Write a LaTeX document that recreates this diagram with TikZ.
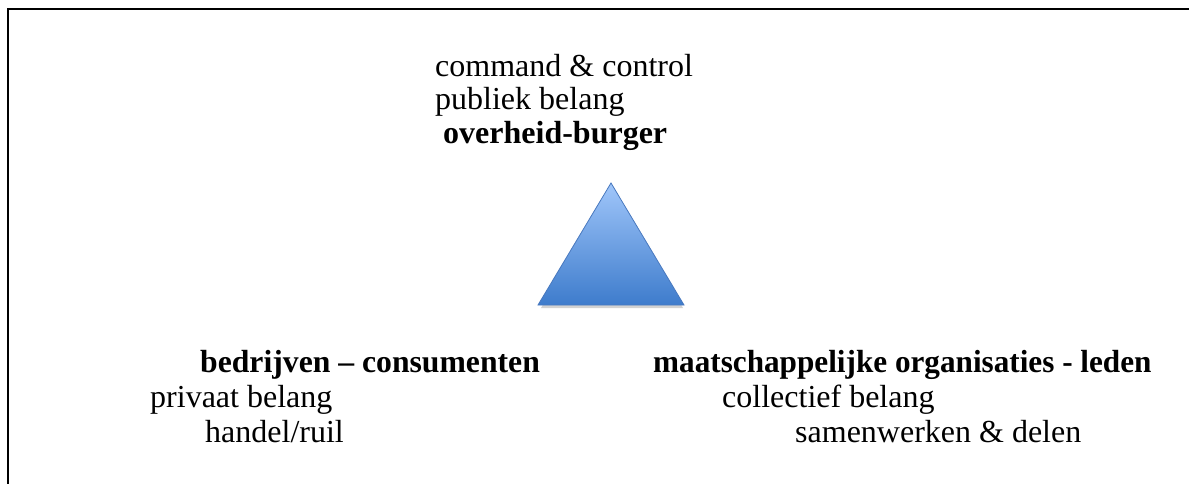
\documentclass[tikz,border=0pt]{standalone}
\usepackage{fontspec}
\setmainfont{Liberation Serif}
\begin{document}
\begin{tikzpicture}[x=1pt,y=-1pt,
  lbl/.style={anchor=base west,inner sep=0pt,font=\fontsize{32}{34}\selectfont},
  blbl/.style={lbl,font=\fontsize{32}{34}\selectfont\bfseries},
  frameline/.style={line width=2.3pt,black}]
\useasboundingbox (0,0) rectangle (1189,484);
% frame (top and left edges only)
\draw[frameline] (8,484) -- (8,9) -- (1189,9);
% triangle with shadow
\fill[gray!35] (613,186) -- (541,308) -- (683,308) -- cycle;
\shade[top color={rgb,255:red,160;green,198;blue,250},bottom color={rgb,255:red,62;green,124;blue,204}]
  (611,183) -- (538,305) -- (684,305) -- cycle;
\draw[line width=0.8pt,color={rgb,255:red,72;green,120;blue,190},line join=miter]
  (611,183) -- (538,305) -- (684,305) -- cycle;
% top texts
\node[lbl] (t1) at (435,77) {command \& control};
\node[lbl] (t2) at (435,110) {publiek belang};
\node[blbl] (t3) at (443,144) {overheid-burger};
% bottom left
\node[blbl] (l1) at (200,372) {\scalebox{0.99}[1]{bedrijven – consumenten}};
\node[lbl] (l2) at (150,407) {privaat belang};
\node[lbl] (l3) at (205,442) {handel/ruil};
% bottom right
\node[blbl] (r1) at (653,372) {\scalebox{0.975}[1]{maatschappelijke organisaties - leden}};
\node[lbl] (r2) at (722,407) {collectief belang};
\node[lbl] (r3) at (795,442) {samenwerken \& delen};
\end{tikzpicture}
\end{document}
